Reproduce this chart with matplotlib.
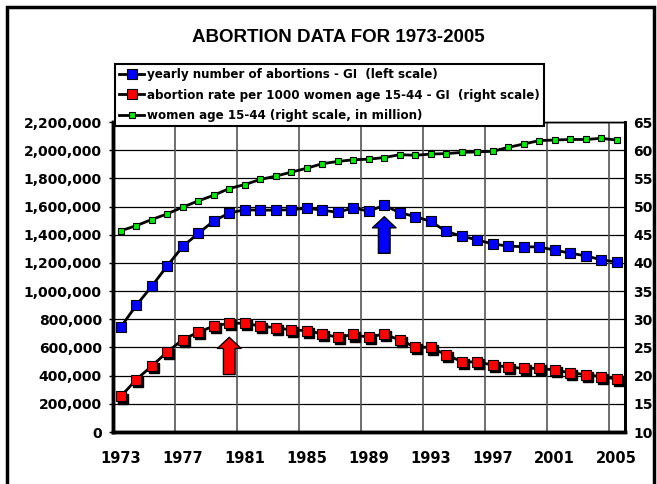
import matplotlib
matplotlib.use('Agg')
import matplotlib.pyplot as plt
import matplotlib.transforms as mtrans
from matplotlib.patches import Rectangle
from matplotlib.ticker import FuncFormatter

years = list(range(1973, 2006))
abortions = [744600, 898600, 1034200, 1179300, 1316700, 1409600, 1497700, 1553900,
             1577300, 1573900, 1575000, 1577200, 1588600, 1574000, 1559100, 1590800,
             1566900, 1608600, 1556500, 1528900, 1495000, 1423000, 1390000, 1363000,
             1335000, 1319000, 1314800, 1313000, 1291000, 1269000, 1250000, 1222100,
             1206200]
rate = [16.3, 19.3, 21.7, 24.2, 26.4, 27.7, 28.8, 29.3, 29.3, 28.8, 28.5, 28.1,
        28.0, 27.4, 26.8, 27.3, 26.8, 27.4, 26.3, 25.1, 25.0, 23.7, 22.5, 22.4,
        21.9, 21.5, 21.3, 21.3, 21.0, 20.5, 20.2, 19.8, 19.4]
women = [45.7, 46.6, 47.7, 48.7, 49.9, 51.0, 52.0, 53.2, 53.9, 54.8, 55.4, 56.1,
         56.8, 57.6, 58.0, 58.3, 58.4, 58.7, 59.2, 59.1, 59.3, 59.4, 59.6, 59.7,
         59.8, 60.5, 61.1, 61.7, 61.8, 61.9, 61.9, 62.1, 61.8]
year_labels = list(range(1973, 2006, 4))

plt.rcParams['font.family'] = 'DejaVu Sans'
plt.rcParams['font.weight'] = 'bold'

fig = plt.figure(figsize=(6.57, 4.84), dpi=100)
ax = fig.add_axes([113/657, 1-432/484, (624.5-113)/657, (432-122)/484])
ax2 = ax.twinx()

# outer frame
fig.patches.append(Rectangle((7/657, -0.02), (654-7)/657, 1.02-7/484, transform=fig.transFigure,
                             fill=False, ec='black', lw=2.5))

fig.text(0.515, 1-37/484, 'ABORTION DATA FOR 1973-2005', ha='center', va='center',
         fontsize=13.5, fontweight='bold', family='Liberation Sans')

# grid
for v in range(0, 2200001, 200000):
    ax.axhline(v, color='black', lw=0.9, zorder=0)
for b in range(1976, 2005, 4):
    ax.axvline(b + 0.5, color='#555555', lw=1.2, zorder=0)

l1, = ax.plot(years, abortions, color='black', lw=2, marker='s', ms=7.2,
              mfc='#0000ff', mec='black', mew=0.8, zorder=3,
              label='yearly number of abortions - GI  (left scale)')

shadow = ax2.transData + mtrans.ScaledTranslation(1.5/72, -1.5/72, fig.dpi_scale_trans)
ax2.plot(years, rate, ls='none', marker='s', ms=7.2, mfc='black', mec='black',
         transform=shadow, zorder=2)
l2, = ax2.plot(years, rate, color='black', lw=2, marker='s', ms=7.2,
               mfc='#ff0000', mec='black', mew=0.8, zorder=3,
               label='abortion rate per 1000 women age 15-44 - GI  (right scale)')
l3, = ax2.plot(years, women, color='black', lw=2, marker='s', ms=5,
               mfc='#00ee00', mec='black', mew=0.8, zorder=3,
               label='women age 15-44 (right scale, in million)')

arrow = 'simple,head_length=0.4,head_width=0.85,tail_width=0.42'
ax.annotate('', xy=(1990, 1528000), xytext=(1990, 1268000),
            arrowprops=dict(arrowstyle=arrow, fc='#0000ff', ec='black', lw=1,
                            mutation_scale=20, shrinkA=0, shrinkB=0), zorder=4)
ax2.annotate('', xy=(1980, 26.8), xytext=(1980, 20.2),
             arrowprops=dict(arrowstyle=arrow, fc='#ff0000', ec='black', lw=1,
                             mutation_scale=20, shrinkA=0, shrinkB=0), zorder=4)

ax.set_xlim(1972.5, 2005.5)
ax.set_ylim(0, 2200000)
ax2.set_ylim(10, 65)
ax.set_yticks(range(0, 2200001, 200000))
ax.yaxis.set_major_formatter(FuncFormatter(lambda v, p: f'{int(v):,}'))
ax2.set_yticks(range(10, 66, 5))
ax.set_xticks(year_labels)
ax.set_xticklabels([str(y) for y in year_labels])

ax.tick_params(axis='y', labelsize=10, length=3, width=1, pad=5)
ax.tick_params(axis='x', labelsize=10.5, length=0, pad=14)
ax2.tick_params(axis='y', labelsize=10, length=0, pad=6.5)

for a in (ax, ax2):
    a.spines['left'].set_linewidth(2.5)
    a.spines['bottom'].set_linewidth(2.5)
    a.spines['right'].set_linewidth(2)
    a.spines['top'].set_linewidth(1)

leg = ax2.legend(handles=[l1, l2, l3], loc='upper left', bbox_to_anchor=(115/657, 1-64/484),
                 bbox_transform=fig.transFigure, borderaxespad=0, fontsize=8.6,
                 handlelength=2.1, handletextpad=0.25, labelspacing=0.62,
                 borderpad=0.35, fancybox=False, framealpha=1, edgecolor='black')
leg.get_frame().set_linewidth(1.5)
leg.set_zorder(10)

fig.savefig('out.png', dpi=100)
